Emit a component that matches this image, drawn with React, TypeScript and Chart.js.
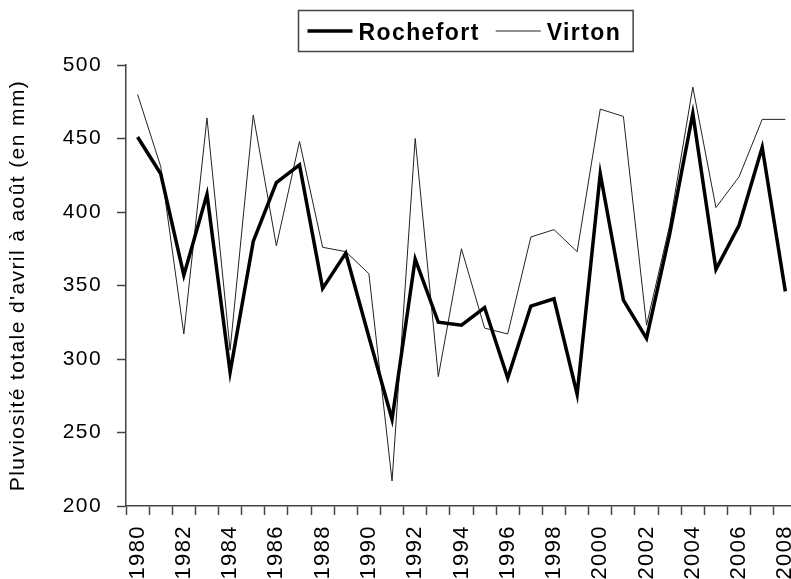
import React, { useEffect, useRef } from "react";
import { Chart, registerables } from "chart.js";

Chart.register(...registerables);

const years: number[] = [
  1980, 1981, 1982, 1983, 1984, 1985, 1986, 1987, 1988, 1989,
  1990, 1991, 1992, 1993, 1994, 1995, 1996, 1997, 1998, 1999,
  2000, 2001, 2002, 2003, 2004, 2005, 2006, 2007, 2008,
];

const rochefort: number[] = [
  451, 426, 357, 412, 291, 380, 420, 432, 348, 372,
  315, 259, 368, 325, 323, 335, 287, 336, 341, 276,
  426, 340, 314, 385, 467, 361, 391, 444, 346,
];

const virton: number[] = [
  480, 431, 317, 464, 306, 466, 377, 448, 376, 373,
  358, 217, 450, 288, 375, 321, 317, 383, 388, 373,
  470, 465, 323, 391, 485, 403, 424, 463, 463,
];

const yTickValues: number[] = [200, 250, 300, 350, 400, 450, 500];
const seriesNames = ["Rochefort", "Virton"];
const yTitle = "Pluviosité totale d'avril à août (en mm)";

const FONT = "'Liberation Sans', Arial, sans-serif";
const SPACING = "1.4px";

const spacingPlugin = {
  id: "spacing",
  beforeUpdate(chart: any) {
    (chart.ctx as any).letterSpacing = SPACING;
  },
  beforeDraw(chart: any) {
    (chart.ctx as any).letterSpacing = SPACING;
  },
};

const boxedLegend = {
  id: "boxedLegend",
  afterDraw(chart: any) {
    const ctx = chart.ctx;
    const ca = chart.chartArea;
    ctx.save();
    (ctx as any).letterSpacing = SPACING;
    ctx.font = `bold 23px ${FONT}`;
    const ds = chart.data.datasets;
    const padL = 9, sample = 45, gapS = 6, gapItem = 16, padR = 12;
    const widths = ds.map((d: any) => ctx.measureText(d.label).width);
    let total = padL + padR;
    widths.forEach((w: number, i: number) => {
      total += sample + gapS + w + (i < ds.length - 1 ? gapItem : 0);
    });
    const cx = (ca.left + ca.right) / 2 + 4;
    const left = Math.round(cx - total / 2) + 0.5;
    const top = 10.5;
    const h = 41;
    ctx.strokeStyle = "#444";
    ctx.lineWidth = 1.5;
    ctx.strokeRect(left, top, total, h);
    let x = left + padL;
    const midY = top + h / 2;
    ds.forEach((d: any, i: number) => {
      ctx.beginPath();
      ctx.strokeStyle = d.borderColor;
      ctx.lineWidth = d.borderWidth;
      ctx.moveTo(x, midY);
      ctx.lineTo(x + sample, midY);
      ctx.stroke();
      x += sample + gapS;
      ctx.fillStyle = "#000";
      ctx.textBaseline = "alphabetic";
      ctx.textAlign = "left";
      ctx.fillText(d.label, x, midY + 9);
      x += widths[i] + gapItem;
    });
    ctx.restore();
  },
};

export default function App() {
  const ref = useRef<HTMLCanvasElement | null>(null);

  useEffect(() => {
    if (!ref.current) return;
    const chart = new Chart(ref.current, {
      type: "line",
      data: {
        labels: years.map(String),
        datasets: [
          {
            label: seriesNames[0],
            data: rochefort,
            borderColor: "#000",
            borderWidth: 3.5,
            pointRadius: 0,
            tension: 0,
            fill: false,
          },
          {
            label: seriesNames[1],
            data: virton,
            borderColor: "#222",
            borderWidth: 1,
            pointRadius: 0,
            tension: 0,
            fill: false,
          },
        ],
      },
      options: {
        animation: false,
        responsive: false,
        devicePixelRatio: 1,
        layout: { padding: { top: 65, right: 14.5, bottom: 0, left: 0 } },
        plugins: { legend: { display: false }, tooltip: { enabled: false } },
        scales: {
          x: {
            type: "category",
            offset: true,
            grid: {
              offset: true,
              drawOnChartArea: false,
              drawTicks: true,
              tickLength: 9,
              tickWidth: 1.5,
              tickColor: "#444",
            },
            border: { display: true, color: "#444", width: 1.5 },
            ticks: {
              autoSkip: false,
              minRotation: 90,
              maxRotation: 90,
              padding: 10,
              color: "#000",
              font: { family: FONT, size: 22 },
              callback: (_v: any, i: number) => (years[i] % 2 === 0 ? String(years[i]) : ""),
            },
            afterFit: (s: any) => {
              s.height = 73;
            },
          },
          y: {
            type: "linear",
            position: "left",
            min: yTickValues[0],
            max: yTickValues[yTickValues.length - 1],
            afterBuildTicks: (s: any) => {
              s.ticks = yTickValues.map((v) => ({ value: v }));
            },
            grid: {
              drawOnChartArea: false,
              drawTicks: true,
              tickLength: 9,
              tickWidth: 1.5,
              tickColor: "#444",
            },
            border: { display: true, color: "#444", width: 1.5 },
            ticks: {
              padding: 15,
              color: "#000",
              font: { family: FONT, size: 21 },
            },
            title: {
              display: true,
              text: yTitle,
              color: "#000",
              font: { family: FONT, size: 21 },
              padding: { top: 6, bottom: 0 },
            },
            afterFit: (s: any) => {
              s.width = 126;
            },
          },
        },
      },
      plugins: [spacingPlugin, boxedLegend],
    });
    return () => chart.destroy();
  }, []);

  return (
    <div
      style={{
        position: "fixed",
        left: 0,
        top: 0,
        width: 791,
        height: 579,
        overflow: "hidden",
        background: "#fff",
      }}
    >
      <canvas ref={ref} width={822} height={579} style={{ display: "block" }} />
    </div>
  );
}
